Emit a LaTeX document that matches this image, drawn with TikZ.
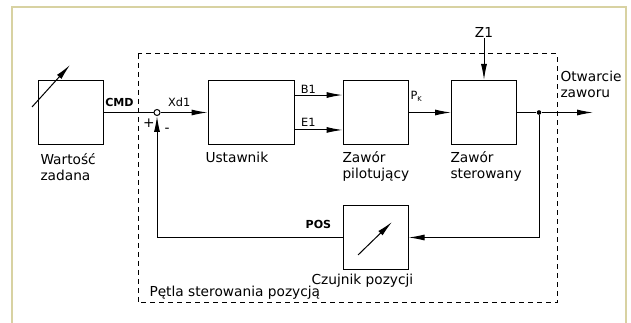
\documentclass[tikz,border=0pt]{standalone}
\usepackage{fontspec}
\setmainfont{DejaVu Sans}
\usetikzlibrary{arrows.meta}
\definecolor{ramka}{RGB}{216,210,162}
\tikzset{
  blok/.style={draw, minimum width=48.75pt, minimum height=48pt, inner sep=0pt},
  opis/.style={font=\fontsize{10.3}{12}\selectfont, inner sep=0pt, align=left},
  maly/.style={font=\fontsize{8.5}{10}\selectfont, inner sep=0pt},
  gruby/.style={font=\fontsize{8.3}{10}\selectfont\bfseries, inner sep=0pt},
  strz/.style={-{Latex[length=12pt,width=4.5pt]}},
}
\begin{document}
\begin{tikzpicture}[x=0.75pt,y=-0.75pt,line width=0.75pt]
\useasboundingbox (0,0) rectangle (631,323);
\draw[ramka, line width=1.5pt] (12,330) -- (12,7) -- (626,7) -- (626,330);
\draw[dash pattern=on 3.75pt off 3pt] (138,54) rectangle (557,303);
\node[blok] (wz) at (70.5,112.5) {};
\node[blok, minimum width=64.5pt] (ust) at (251,112.5) {};
\node[blok] (pil) at (375.5,112.5) {};
\node[blok] (ster) at (484,112.5) {};
\node[blok] (czuj) at (375.5,237.5) {};
\node[circle, draw, inner sep=0pt, minimum size=4.5pt] (sum) at (157,112.5) {};
\node[circle, fill, inner sep=0pt, minimum size=3.5pt] (wez) at (539,112.5) {};
\coordinate (wyj) at (593,112.5);
\node[opis, anchor=base] (z1) at (484,38) {Z1};
\node[opis, anchor=base west] (wzt) at (40,181) {Wartość\\zadana};
\node[opis, anchor=base west] (ustt) at (205,163) {Ustawnik};
\node[opis, anchor=base west] (pilt) at (342,179) {Zawór\\pilotujący};
\node[opis, anchor=base west] (stert) at (450,179) {Zawór\\sterowany};
\node[opis, anchor=base west] (czujt) at (311,285) {Czujnik pozycji};
\node[opis, anchor=base west] (petla) at (149,297) {Pętla sterowania pozycją};
\node[opis, anchor=base west] (otw) at (560,98) {Otwarcie\\zaworu};
\node[maly, anchor=base west] (pk) at (410,100) {P\textsubscript{\tiny K}};
\node[opis] (plus) at (149,123) {+};
\node[opis] (minus) at (167,130) {-};
\draw (wz) to node [gruby, above=4pt, pos=0.32] {CMD} (sum);
\draw[strz] (sum) to node [maly, above=4pt, pos=0.4] {Xd1} (ust);
\draw[strz] ([yshift=13.1pt]ust.east) to node [maly, above=1pt, pos=0.29] {B1} ([yshift=13.1pt]pil.west);
\draw[strz] ([yshift=-13.1pt]ust.east) to node [maly, above=2pt, pos=0.29] {E1} ([yshift=-13.1pt]pil.west);
\draw[strz] (pil) to (ster);
\draw[strz] (z1) to (ster);
\draw (ster) to (wez);
\draw[strz] (wez) to (wyj);
\draw[strz] (wez) |- (czuj);
\draw[strz] (czuj) -| node [gruby, above=6.5pt, pos=0.065] {POS} (sum);
\draw[strz] (32,107) to (70,65);
\draw[strz] (358,255) to (392,222);
\end{tikzpicture}
\end{document}
